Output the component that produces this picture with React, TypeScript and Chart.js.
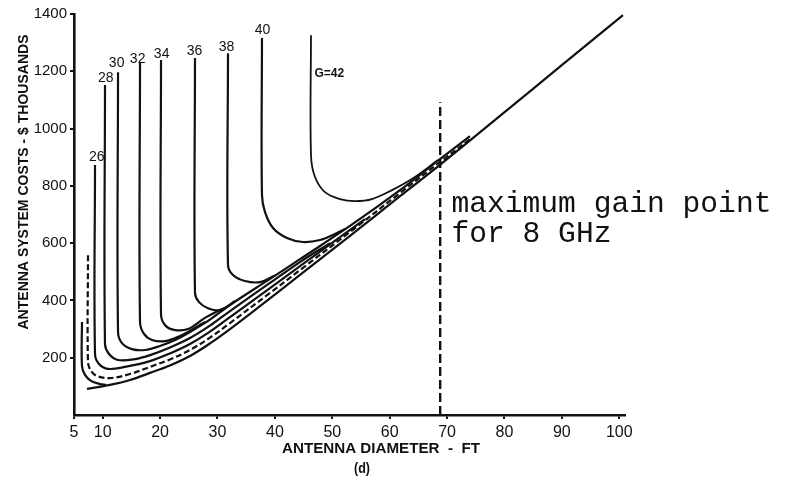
import React, { useEffect, useRef } from 'react';
import { Chart, registerables } from 'chart.js';

Chart.register(...registerables);

// ---- axis ticks ----
const xTickValues = [5, 10, 20, 30, 40, 50, 60, 70, 80, 90, 100];
const yTickValues = [200, 400, 600, 800, 1000, 1200, 1400];

// ---- curves: [diameter ft, cost $K] ----
const envelope = [[7.26, 91], [11.27, 105], [14.76, 122], [18.24, 147], [21.72, 173], [25.21, 206], [28.69, 250], [32.18, 300], [37.4, 380], [44.37, 489], [53.08, 625], [61.8, 764], [68.76, 873], [79.22, 1044], [89.67, 1216], [100.65, 1396]];
const g22 = [[6.39, 325], [6.39, 171], [6.92, 140], [7.96, 119], [9.53, 108], [10.57, 105]];
const g24 = [[7.44, 558], [7.44, 185], [7.96, 154], [9.01, 136], [11.27, 129], [14.76, 143], [18.24, 168], [21.72, 194], [25.21, 227], [28.69, 270], [32.18, 321], [39.15, 426], [44.37, 506], [53.08, 639], [61.8, 775], [68.76, 883], [73.99, 963]];
const g26 = [[8.66, 873], [8.66, 213], [9.36, 178], [10.92, 161], [13.89, 168], [18.24, 188], [21.72, 215], [25.21, 248], [28.69, 291], [32.18, 342], [39.15, 443], [44.37, 520], [51.34, 621], [55.7, 684]];
const g28 = [[10.4, 1152], [10.4, 248], [11.1, 213], [12.67, 192], [15.63, 195], [18.24, 209], [21.72, 236], [25.21, 269], [28.69, 312], [32.18, 363], [39.15, 461], [44.37, 534], [49.6, 600]];
const g30 = [[12.67, 1197], [12.67, 290], [13.36, 251], [15.1, 230], [17.37, 227], [19.98, 241], [22.6, 262], [25.21, 290], [28.69, 333], [32.18, 384], [39.15, 475], [44.37, 544], [53.08, 660], [61.8, 785], [68.76, 893], [73.99, 974]];
const g32 = [[16.5, 1232], [16.5, 325], [17.2, 283], [18.59, 262], [20.85, 258], [23.47, 276], [26.08, 304], [27.82, 325]];
const g34 = [[20.16, 1239], [20.16, 352], [20.85, 314], [22.42, 297], [24.86, 300], [27.82, 339], [31.83, 380]];
const g36 = [[26.08, 1246], [26.08, 426], [26.78, 394], [28.34, 373], [30.43, 366], [33.05, 398]];
const g38 = [[31.83, 1263], [31.83, 524], [32.7, 489], [34.79, 468], [37.4, 464], [40.02, 487]];
const g40 = [[37.75, 1316], [37.75, 768], [38.28, 708], [39.67, 653], [42.11, 618], [44.9, 604], [47.86, 611], [50.47, 632], [52.22, 649]];
const g42 = [[46.29, 1326], [46.29, 907], [46.99, 831], [48.73, 778], [51.34, 754], [53.95, 747], [56.92, 754], [60.4, 785], [64.41, 831], [68.41, 890]];

const maxGainLine = [[68.8, 0], [68.8, 1092]];

// ---- curve labels ----
const gainLabels = ['26', '28', '30', '32', '34', '36', '38', '40', 'G=42'];
const gainLabelX = [8.95, 10.52, 12.43, 16.09, 20.27, 26.01, 31.58, 37.85, 46.9];
const gainLabelY = [900, 1176, 1228, 1242, 1260, 1270, 1284, 1344, 1190];

// ---- annotation ----
const noteLines = ['maximum gain point', 'for 8 GHz'];
const noteX = 70.76;
const noteY = [708, 604];

const INK = '#111';
const NARROW = "'Liberation Sans Narrow', 'Liberation Sans', Arial, sans-serif";

function toPts(arr: number[][]) {
  return arr.map(([x, y]) => ({ x, y }));
}

function fitText(ctx: CanvasRenderingContext2D, text: string, x: number, y: number, width: number, align: CanvasTextAlign) {
  const w = ctx.measureText(text).width || 1;
  const s = width / w;
  ctx.save();
  ctx.translate(x, y);
  ctx.scale(s, 1);
  ctx.textAlign = align;
  ctx.fillText(text, 0, 0);
  ctx.restore();
}

const textPlugin = {
  id: 'textPlugin',
  afterDatasetsDraw(chart: any) {
    const { ctx, scales } = chart;
    const xs = scales.x;
    const ys = scales.y;
    ctx.save();
    ctx.fillStyle = INK;
    // curve labels
    gainLabels.forEach((t, i) => {
      const px = xs.getPixelForValue(gainLabelX[i]);
      const py = ys.getPixelForValue(gainLabelY[i]);
      ctx.textBaseline = 'middle';
      if (t.startsWith('G')) {
        ctx.font = `bold 12px ${NARROW}`;
        ctx.textAlign = 'left';
      } else {
        ctx.font = `14px ${NARROW}`;
        ctx.textAlign = 'center';
      }
      ctx.fillText(t, px, py);
    });
    // annotation
    ctx.textBaseline = 'alphabetic';
    ctx.font = "30px 'Liberation Mono', 'Courier New', monospace";
    const nx = xs.getPixelForValue(noteX);
    const fullW = ctx.measureText(noteLines[0]).width || 1;
    const s = 320 / fullW;
    noteLines.forEach((t, i) => {
      const py = ys.getPixelForValue(noteY[i]);
      ctx.save();
      ctx.translate(nx, py);
      ctx.scale(s, 1);
      ctx.textAlign = 'left';
      ctx.fillText(t, 0, 0);
      ctx.restore();
    });
    // y title
    ctx.font = `bold 15px ${NARROW}`;
    ctx.textBaseline = 'middle';
    ctx.save();
    ctx.translate(24, 182);
    ctx.rotate(-Math.PI / 2);
    fitText(ctx, 'ANTENNA SYSTEM COSTS - $ THOUSANDS', 0, 0, 295, 'center');
    ctx.restore();
    // x title
    ctx.font = `bold 15px ${NARROW}`;
    fitText(ctx, 'ANTENNA DIAMETER  -  FT', 381, 449, 198, 'center');
    fitText(ctx, '(d)', 362, 469, 16, 'center');
    ctx.restore();
  },
};

export default function App() {
  const ref = useRef<HTMLCanvasElement>(null);
  useEffect(() => {
    document.body.style.margin = '0';
    const curves = [envelope, g22, g24, g26, g28, g30, g32, g34, g36, g38, g40, g42];
    const datasets: any[] = curves.map((c) => ({
      data: toPts(c),
      borderColor: INK,
      borderWidth: c === g42 ? 1.8 : 2.2,
      borderDash: c === g24 ? [6, 3] : [],
      pointRadius: 0,
      tension: 0.35,
      fill: false,
    }));
    datasets.push({
      data: toPts(maxGainLine),
      borderColor: INK,
      borderWidth: 2.4,
      borderDash: [9, 4],
      pointRadius: 0,
      tension: 0,
      fill: false,
    });
    const chart = new Chart(ref.current!, {
      type: 'line',
      data: { datasets },
      options: {
        animation: false,
        responsive: false,
        maintainAspectRatio: false,
        layout: { padding: { top: 14, right: 163, left: 0, bottom: 0 } },
        plugins: { legend: { display: false }, tooltip: { enabled: false } },
        scales: {
          x: {
            type: 'linear',
            min: 5,
            max: 101,
            afterFit: (s: any) => { s.height = 65; },
            afterBuildTicks: (s: any) => { s.ticks = xTickValues.map((v) => ({ value: v })); },
            ticks: { font: { family: NARROW, size: 16 }, color: INK, padding: 4, maxRotation: 0, autoSkip: false, callback: (v: any) => String(v) },
            grid: { display: true, drawOnChartArea: false, tickLength: 4, color: INK, lineWidth: 2 },
            border: { color: INK, width: 2.6 },
          },
          y: {
            type: 'linear',
            min: 0,
            max: 1400,
            afterFit: (s: any) => { s.width = 74; },
            afterBuildTicks: (s: any) => { s.ticks = yTickValues.map((v) => ({ value: v })); },
            ticks: { font: { family: NARROW, size: 15 }, color: INK, padding: 3, autoSkip: false, callback: (v: any) => String(v) },
            grid: { display: true, drawOnChartArea: false, tickLength: 4, color: INK, lineWidth: 2 },
            border: { color: INK, width: 2.6 },
          },
        },
      },
      plugins: [textPlugin],
    });
    return () => chart.destroy();
  }, []);
  return (
    <div style={{ position: 'absolute', left: 0, top: 0, width: 788, height: 480, background: '#fff' }}>
      <canvas ref={ref} width={788} height={480} style={{ display: 'block' }} />
    </div>
  );
}
